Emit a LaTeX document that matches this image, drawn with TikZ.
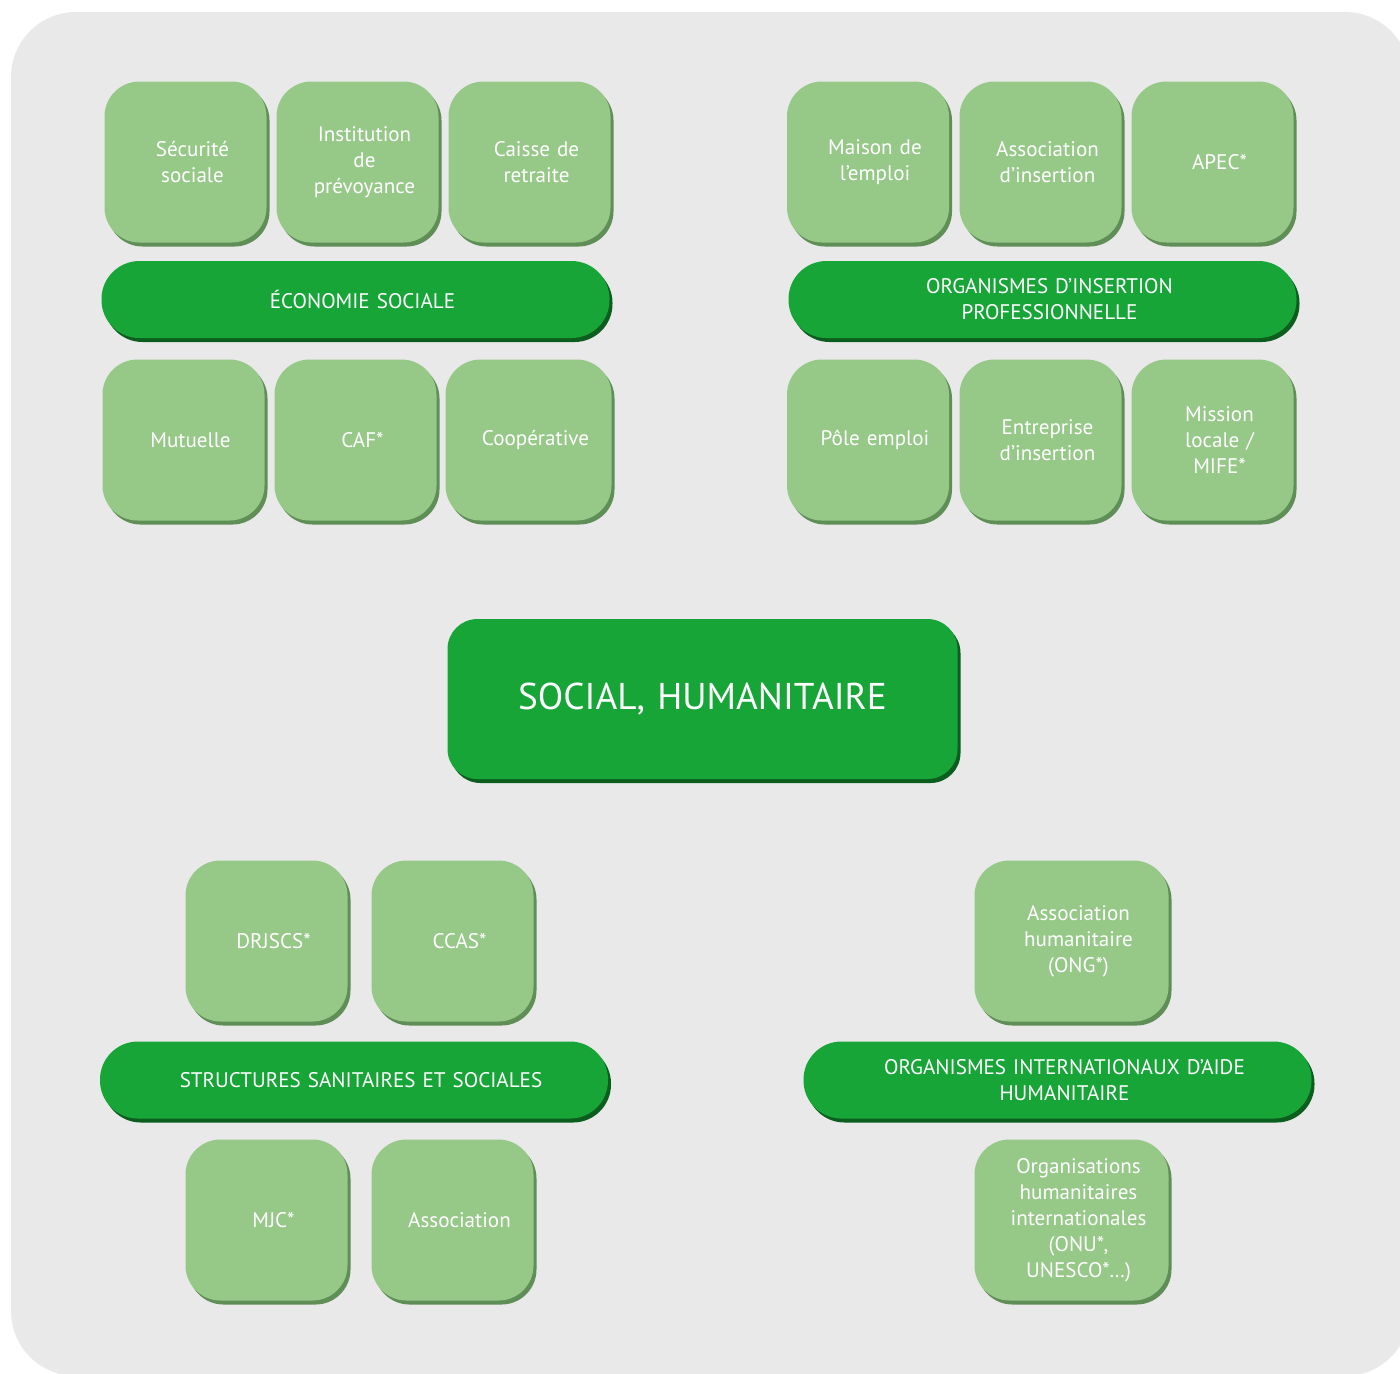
\documentclass[tikz,border=0pt]{standalone}
\usepackage{fontspec}
\setmainfont{PT Sans}
\usetikzlibrary{shadows}
\definecolor{fond}{HTML}{E9E9E9}
\definecolor{vertclair}{HTML}{96C888}
\definecolor{vertclairbord}{HTML}{5F8E56}
\definecolor{vertfonce}{HTML}{17A538}
\definecolor{vertfoncebord}{HTML}{0C5E1F}

\begin{document}
\begin{tikzpicture}[
    petit/.style={fill=vertclair, text=white, align=center, inner sep=0pt,
      rounded corners=0.35cm, minimum width=1.62cm, minimum height=1.61cm,
      text width=1.62cm, font=\fontsize{6.0}{7.4}\selectfont,
      execute at begin node={\leftskip=0.14cm plus 1fil\rightskip=0pt plus 1fil},
      general shadow={fill=vertclairbord, shadow xshift=0.03cm, shadow yshift=-0.04cm}},
    bande/.style={fill=vertfonce, text=white, align=center, inner sep=0pt,
      rounded corners=0.38cm, minimum width=5.08cm, minimum height=0.77cm,
      text width=5.08cm, font=\fontsize{6.0}{7.4}\selectfont,
      execute at begin node={\leftskip=0.14cm plus 1fil\rightskip=0pt plus 1fil},
      general shadow={fill=vertfoncebord, shadow xshift=0.03cm, shadow yshift=-0.04cm}},
    central/.style={bande, minimum width=5.1cm, minimum height=1.6cm, text width=5.1cm,
      rounded corners=0.3cm, font=\fontsize{10.6}{12}\selectfont,
      execute at begin node={\leftskip=0pt plus 1fil}}
  ]

  \clip (0,0) rectangle (14,-13.73);
  \fill[fond, rounded corners=0.65cm] (0.11,-0.12) rectangle (14.1,-13.76);

  % economie sociale
  \node[petit] (secu) at (1.855,-1.62) {Sécurité\\sociale};
  \node[petit] (prevoyance) at (3.575,-1.62) {Institution\\de\\prévoyance};
  \node[petit] (retraite) at (5.295,-1.62) {Caisse de\\retraite};
  \node[bande] (ecosoc) at (3.555,-2.995) {ÉCONOMIE SOCIALE};
  \node[petit] (mutuelle) at (1.835,-4.4) {Mutuelle};
  \node[petit] (caf) at (3.555,-4.4) {CAF*};
  \node[petit, minimum width=1.66cm] (coop) at (5.285,-4.4) {Coopérative};

  % insertion professionnelle
  \node[petit] (maison) at (8.68,-1.62) {Maison de\\l’emploi};
  \node[petit] (assoins) at (10.405,-1.62) {Association\\d’insertion};
  \node[petit] (apec) at (12.125,-1.62) {APEC*};
  \node[bande] (insertion) at (10.425,-2.995) {ORGANISMES D’INSERTION\\PROFESSIONNELLE};
  \node[petit] (pole) at (8.68,-4.4) {Pôle emploi};
  \node[petit] (entreprise) at (10.405,-4.4) {Entreprise\\d’insertion};
  \node[petit] (mission) at (12.125,-4.4) {Mission\\locale /\\MIFE*};

  \node[central] (social) at (7.025,-6.99) {SOCIAL, HUMANITAIRE};

  % structures sanitaires et sociales
  \node[petit] (drjscs) at (2.665,-9.41) {DRJSCS*};
  \node[petit] (ccas) at (4.525,-9.41) {CCAS*};
  \node[bande] (sanitaire) at (3.54,-10.8) {STRUCTURES SANITAIRES ET SOCIALES};
  \node[petit] (mjc) at (2.665,-12.2) {MJC*};
  \node[petit] (asso) at (4.525,-12.2) {Association};

  % aide humanitaire
  \node[petit, minimum width=1.94cm, text width=1.94cm] (ong) at (10.715,-9.41)
    {Association\\humanitaire\\(ONG*)};
  \node[bande] (internat) at (10.575,-10.8) {ORGANISMES INTERNATIONAUX D’AIDE\\HUMANITAIRE};
  \node[petit, minimum width=1.94cm, text width=1.94cm] (onu) at (10.715,-12.2)
    {Organisations\\humanitaires\\internationales\\(ONU*,\\UNESCO*…)};

\end{tikzpicture}
\end{document}
